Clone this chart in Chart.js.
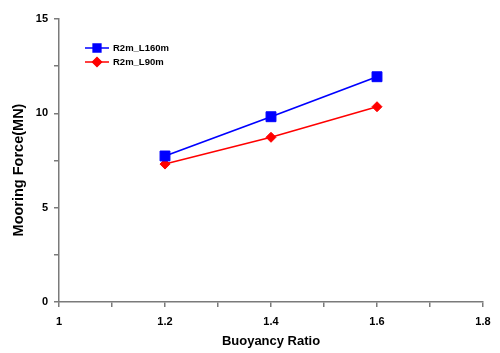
<!DOCTYPE html>
<html>
<head>
<meta charset="utf-8">
<script src="https://cdn.jsdelivr.net/npm/chart.js@4/dist/chart.umd.min.js"></script>
<style>
  html, body { margin: 0; padding: 0; background: #fff; }
  #wrap { width: 500px; height: 353px; }
</style>
</head>
<body>
<div id="wrap"><canvas id="chart"></canvas></div>
<script>
// buoyancy ratios (x) and mooring force (MN)
const ratios = [1.2, 1.4, 1.6];
const forceL160 = [7.74, 9.82, 11.94];
const forceL90 = [7.31, 8.73, 10.35];
const seriesNames = ['R2m_L160m', 'R2m_L90m'];
const yTitle = 'Mooring Force(MN)';

const FONT = 'Liberation Sans, Arial, sans-serif';
const AXIS_GREY = '#7a7a7a';

// legend inside the plot (line with marker) + y title a bit below centre
const extras = {
  id: 'extras',
  afterDraw(chart) {
    const ctx = chart.ctx;
    const x0 = 85, x1 = 109;
    chart.data.datasets.forEach((ds, i) => {
      const y = 48 + i * 14;
      ctx.save();
      ctx.strokeStyle = ds.borderColor;
      ctx.lineWidth = 1.5;
      ctx.beginPath();
      ctx.moveTo(x0, y);
      ctx.lineTo(x1, y);
      ctx.stroke();
      Chart.helpers.drawPoint(ctx, {
        pointStyle: ds.pointStyle,
        radius: ds.pointStyle === 'rect' ? 5.5 : 4.5,
        borderWidth: 1
      }, (x0 + x1) / 2, y);
      ctx.fillStyle = ds.borderColor;
      ctx.fill();
      ctx.fillStyle = '#000';
      ctx.font = 'bold 9.5px ' + FONT;
      ctx.textBaseline = 'middle';
      ctx.fillText(ds.label, 113, y);
      ctx.restore();
    });

    ctx.save();
    ctx.translate(19, 170);
    ctx.rotate(-Math.PI / 2);
    ctx.fillStyle = '#000';
    ctx.font = 'bold 14.5px ' + FONT;
    ctx.textAlign = 'center';
    ctx.textBaseline = 'middle';
    ctx.fillText(yTitle, 0, 0);
    ctx.restore();
  }
};

const ctx = document.getElementById('chart').getContext('2d');
new Chart(ctx, {
  type: 'line',
  data: {
    datasets: [
      {
        label: seriesNames[0],
        data: ratios.map((r, i) => ({ x: r, y: forceL160[i] })),
        borderColor: '#0000ff',
        backgroundColor: '#0000ff',
        borderWidth: 1.8,
        pointStyle: 'rect',
        pointRadius: 7,
        pointBorderWidth: 1
      },
      {
        label: seriesNames[1],
        data: ratios.map((r, i) => ({ x: r, y: forceL90[i] })),
        borderColor: '#ff0000',
        backgroundColor: '#ff0000',
        borderWidth: 1.5,
        pointStyle: 'rectRot',
        pointRadius: 5,
        pointBorderWidth: 1
      }
    ]
  },
  options: {
    responsive: true,
    maintainAspectRatio: false,
    animation: false,
    layout: { padding: { top: 19, right: 17, left: 0, bottom: 0 } },
    plugins: { legend: { display: false }, tooltip: { enabled: false } },
    scales: {
      x: {
        type: 'linear',
        min: 1, max: 1.8,
        afterFit(scale) { scale.height = 51; },
        border: { color: AXIS_GREY, width: 1.5 },
        grid: { drawOnChartArea: false, color: AXIS_GREY, tickLength: 5, lineWidth: 1.5 },
        ticks: {
          stepSize: 0.1,
          padding: 8,
          color: '#000',
          font: { family: FONT, size: 11, weight: 'bold' },
          maxRotation: 0,
          autoSkip: false,
          callback: v => {
            const k = Math.round(v * 10);
            return k % 2 === 0 ? (k === 10 ? '1' : (k / 10).toFixed(1)) : '';
          }
        },
        title: {
          display: true,
          text: 'Buoyancy Ratio',
          color: '#000',
          font: { family: FONT, size: 13, weight: 'bold' },
          padding: { top: 1 }
        }
      },
      y: {
        type: 'linear',
        min: 0, max: 15,
        afterFit(scale) { scale.width = 59; },
        border: { color: AXIS_GREY, width: 1.5 },
        grid: { drawOnChartArea: false, color: AXIS_GREY, tickLength: 5, lineWidth: 1.5 },
        ticks: {
          stepSize: 2.5,
          padding: 6,
          color: '#000',
          font: { family: FONT, size: 11, weight: 'bold' },
          autoSkip: false,
          callback: v => (v % 5 === 0 ? String(v) : '')
        },
        title: { display: false }
      }
    }
  },
  plugins: [extras]
});
</script>
</body>
</html>
